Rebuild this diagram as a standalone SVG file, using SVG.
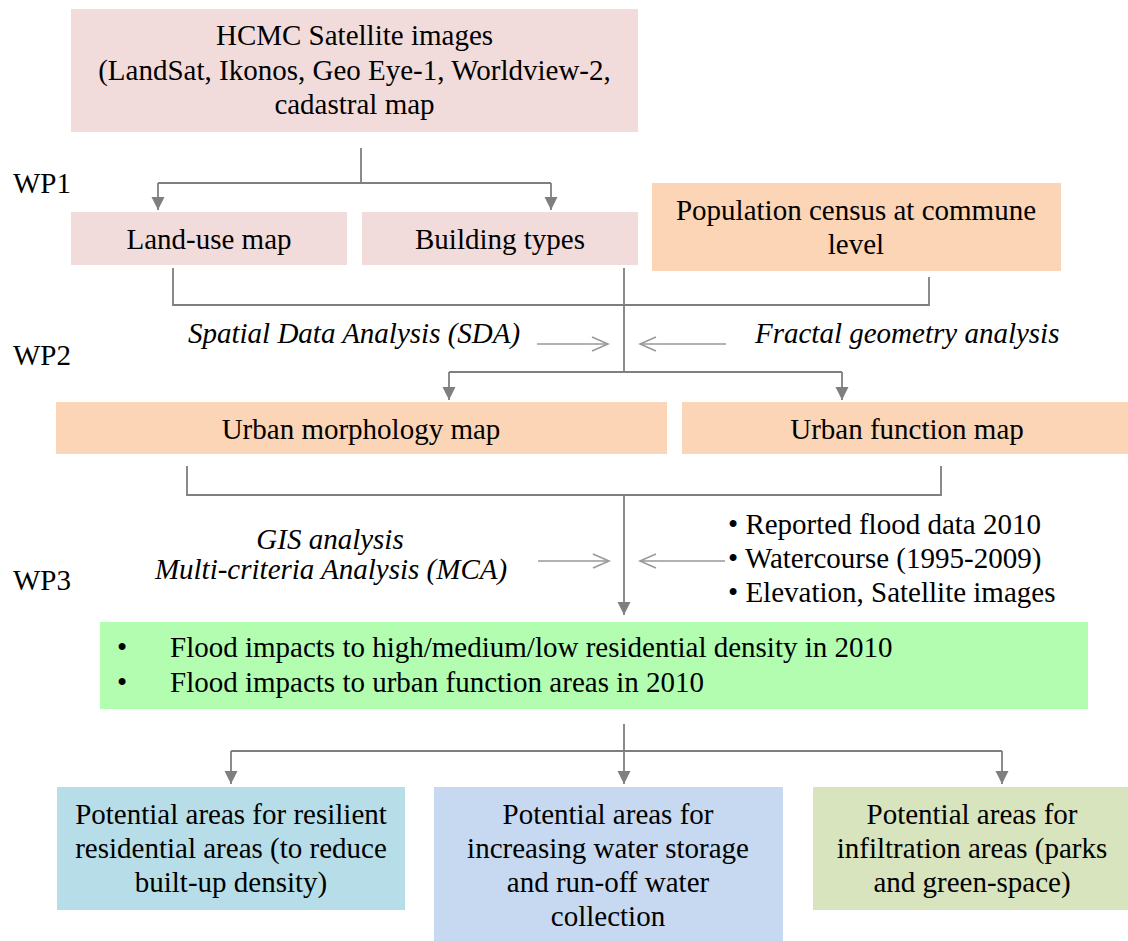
<svg xmlns="http://www.w3.org/2000/svg" width="1128" height="941" viewBox="0 0 1128 941" font-family="'Liberation Serif', Tinos, 'Times New Roman', Times, 'DejaVu Serif', serif">
<style>
text{font-family:'Liberation Serif',Tinos,'Times New Roman',Times,'DejaVu Serif',serif;font-size:29px;fill:#000}
.c{text-anchor:middle}
.i{font-style:italic}
.pink{fill:#f2dcdb}
.peach{fill:#fbd5b5}
.green{fill:#b2fdb0}
.teal{fill:#b7dee8}
.blue{fill:#c6d9f1}
.khaki{fill:#d7e4bd}
.ln{stroke:#7f7f7f;stroke-width:1.8;fill:none}
.ar{stroke:#7f7f7f;stroke-width:1.8;fill:none;marker-end:url(#tri)}
.op{stroke:#999;stroke-width:1.6;fill:none;marker-end:url(#chev)}
</style>
<defs>
<marker id="tri" markerUnits="userSpaceOnUse" markerWidth="14" markerHeight="14" refX="13" refY="6.5" orient="auto">
<path d="M0,0 L13,6.5 L0,13 z" fill="#7f7f7f"/>
</marker>
<marker id="chev" markerUnits="userSpaceOnUse" markerWidth="20" markerHeight="18" refX="17" refY="8" orient="auto">
<path d="M1,1 L17,8 L1,15" fill="none" stroke="#999" stroke-width="1.6"/>
</marker>
</defs>

<g id="labels">
<text x="13" y="193">WP1</text>
<text x="13" y="365">WP2</text>
<text x="13" y="590">WP3</text>
</g>

<g id="satellite">
<rect class="pink" x="71" y="9" width="567" height="123"/>
<text class="c" x="354.5" y="45">HCMC Satellite images</text>
<text class="c" x="354.5" y="80">(LandSat, Ikonos, Geo Eye-1, Worldview-2,</text>
<text class="c" x="354.5" y="114">cadastral map</text>
</g>

<g id="landuse">
<rect class="pink" x="71" y="212" width="276" height="53"/>
<text class="c" x="209" y="249">Land-use map</text>
</g>

<g id="building">
<rect class="pink" x="362" y="212" width="276" height="53"/>
<text class="c" x="500" y="249">Building types</text>
</g>

<g id="population">
<rect class="peach" x="652" y="183" width="409" height="88"/>
<text class="c" x="856" y="220">Population census at commune</text>
<text class="c" x="856" y="254">level</text>
</g>

<g id="sda">
<text class="i" x="188" y="343">Spatial Data Analysis (SDA)</text>
</g>
<g id="fractal">
<text class="i" x="755" y="343">Fractal geometry analysis</text>
</g>

<g id="morphology">
<rect class="peach" x="56" y="402" width="611" height="52"/>
<text class="c" x="361" y="439">Urban morphology map</text>
</g>

<g id="function">
<rect class="peach" x="682" y="402" width="446" height="52"/>
<text class="c" x="907" y="439">Urban function map</text>
</g>

<g id="gis">
<text class="c i" x="330" y="549">GIS analysis</text>
<text class="c i" x="331" y="579">Multi-criteria Analysis (MCA)</text>
</g>

<g id="data">
<text x="728" y="534">• Reported flood data 2010</text>
<text x="728" y="568">• Watercourse (1995-2009)</text>
<text x="728" y="602">• Elevation, Satellite images</text>
</g>

<g id="impacts">
<rect class="green" x="100" y="622" width="988" height="87"/>
<text x="117" y="657">•</text>
<text x="170" y="657">Flood impacts to high/medium/low residential density in 2010</text>
<text x="117" y="692">•</text>
<text x="170" y="692">Flood impacts to urban function areas in 2010</text>
</g>

<g id="resilient">
<rect class="teal" x="57" y="787" width="348" height="123"/>
<text class="c" x="231" y="824">Potential areas for resilient</text>
<text class="c" x="231" y="858">residential areas (to reduce</text>
<text class="c" x="231" y="892">built-up density)</text>
</g>

<g id="storage">
<rect class="blue" x="434" y="787" width="349" height="154"/>
<text class="c" x="608" y="824">Potential areas for</text>
<text class="c" x="608" y="858">increasing water storage</text>
<text class="c" x="608" y="892">and run-off water</text>
<text class="c" x="608" y="926">collection</text>
</g>

<g id="infiltration">
<rect class="khaki" x="813" y="787" width="315" height="123"/>
<text class="c" x="972" y="824">Potential areas for</text>
<text class="c" x="972" y="858">infiltration areas (parks</text>
<text class="c" x="972" y="892">and green-space)</text>
</g>

<g id="connectors">
<path class="ln" d="M361,148 V183 M158,183 H551"/>
<path class="ar" d="M158,183 V210"/>
<path class="ar" d="M551,183 V210"/>
<path class="ln" d="M173,268 V305 H929 V277 M624,268 V372 M449,372 H842"/>
<path class="ar" d="M449,372 V400"/>
<path class="ar" d="M842,372 V400"/>
<path class="op" d="M537,344 H608"/>
<path class="op" d="M726,344 H640"/>
<path class="ln" d="M187,466 V495 H941 V466"/>
<path class="ar" d="M624,495 V615"/>
<path class="op" d="M538,561 H609"/>
<path class="op" d="M725,561 H640"/>
<path class="ln" d="M624,724 V751 M231,751 H1002"/>
<path class="ar" d="M231,751 V784"/>
<path class="ar" d="M624,751 V784"/>
<path class="ar" d="M1002,751 V784"/>
</g>
</svg>
